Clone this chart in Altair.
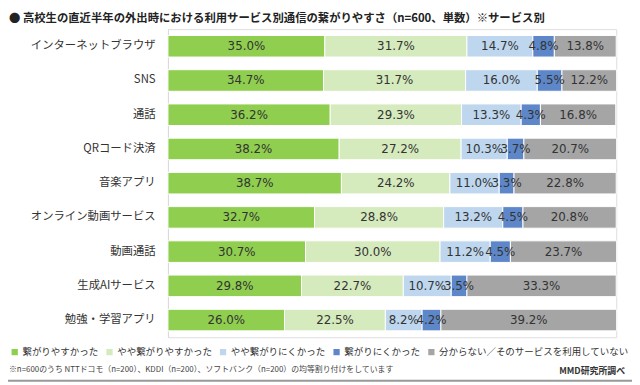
import altair as alt
import pandas as pd

categories = ["インターネットブラウザ", "SNS", "通話", "QRコード決済", "音楽アプリ",
              "オンライン動画サービス", "動画通話", "生成AIサービス", "勉強・学習アプリ"]
series = ["繋がりやすかった", "やや繋がりやすかった", "やや繋がりにくかった",
          "繋がりにくかった", "分からない／そのサービスを利用していない"]
v_easy = [35.0, 34.7, 36.2, 38.2, 38.7, 32.7, 30.7, 29.8, 26.0]
v_some_easy = [31.7, 31.7, 29.3, 27.2, 24.2, 28.8, 30.0, 22.7, 22.5]
v_some_hard = [14.7, 16.0, 13.3, 10.3, 11.0, 13.2, 11.2, 10.7, 8.2]
v_hard = [4.8, 5.5, 4.3, 3.7, 3.3, 4.5, 4.5, 3.5, 4.2]
v_unknown = [13.8, 12.2, 16.8, 20.7, 22.8, 20.8, 23.7, 33.3, 39.2]
colors = ["#8fce4f", "#d5eabd", "#bed7ee", "#5d87c8", "#a5a5a5"]

title_text = "●  高校生の直近半年の外出時における利用サービス別通信の繋がりやすさ（n=600、単数）※サービス別"
note_text = "※n=600のうち NTTドコモ（n=200）、KDDI（n=200）、ソフトバンク（n=200）の均等割り付けをしています"
source_text = "MMD研究所調べ"

rows = []
for si, (s, vals) in enumerate(zip(series, [v_easy, v_some_easy, v_some_hard, v_hard, v_unknown])):
    for c, v in zip(categories, vals):
        rows.append({"cat": c, "series": s, "order": si, "value": v})
df = pd.DataFrame(rows)

FONT = "Noto Sans CJK JP"

base = alt.Chart(df).transform_stack(
    stack="value", groupby=["cat"], as_=["x0", "x1"],
    sort=[alt.SortField("order", order="ascending")]
).transform_calculate(mid="(datum.x0 + datum.x1) / 2",
                      label="format(datum.value, '.1f') + '%'")

yenc = alt.Y("cat:N", sort=categories, title=None,
             scale=alt.Scale(paddingInner=0.37, paddingOuter=0.185),
             axis=alt.Axis(labelFont=FONT, labelFontSize=11.5, labelColor="#333333",
                           ticks=False, domainColor="#d9d9d9", labelPadding=13,
                           grid=False))
xscale = alt.Scale(domain=[0, 100], nice=False)

bars = base.mark_bar(stroke="white", strokeWidth=1).encode(
    x=alt.X("x0:Q", scale=xscale, axis=None),
    x2="x1:Q",
    y=yenc,
    color=alt.Color("series:N", sort=series,
                    scale=alt.Scale(domain=series, range=colors),
                    legend=alt.Legend(title=None, orient="none", direction="horizontal",
                                      legendX=-160, legendY=322, symbolType="square",
                                      symbolSize=40, symbolStrokeWidth=0,
                                      labelFont=FONT, labelFontSize=9.6, labelLimit=300,
                                      labelColor="#333333", columnPadding=6,
                                      symbolOffset=0, labelOffset=3)),
)

labels = base.mark_text(font="DejaVu Sans", fontSize=12, color="#333333").encode(
    x=alt.X("mid:Q", scale=xscale),
    y=alt.Y("cat:N", sort=categories),
    text="label:N",
)

ann = alt.Chart(pd.DataFrame({"t": [title_text]})).mark_text(
    font=FONT, fontSize=11.5, fontWeight="bold", align="left", baseline="middle",
    color="#222222").encode(text="t:N", x=alt.value(-161), y=alt.value(-10))

note = alt.Chart(pd.DataFrame({"t": [note_text]})).mark_text(
    font=FONT, fontSize=8, align="left", baseline="middle",
    color="#444444").encode(text="t:N", x=alt.value(-161), y=alt.value(345))

src = alt.Chart(pd.DataFrame({"t": [source_text]})).mark_text(
    font=FONT, fontSize=9, fontWeight="bold", align="right", baseline="middle",
    color="#333333").encode(text="t:N", x=alt.value(463), y=alt.value(346))

bot_line = alt.Chart(pd.DataFrame({"a": [0]})).mark_rule(color="#999999", strokeWidth=2).encode(
    x=alt.value(-170), x2=alt.value(470), y=alt.value(356))

chart = alt.layer(bars, labels, ann, note, src, bot_line).properties(
    width=454, height=312,
    autosize=alt.AutoSizeParams(type="none"),
    padding={"left": 162, "top": 19, "right": 16, "bottom": 46},
).configure_view(stroke=None).configure(background="white")

chart.save("out.html", embed_options={"renderer": "svg", "actions": False})
